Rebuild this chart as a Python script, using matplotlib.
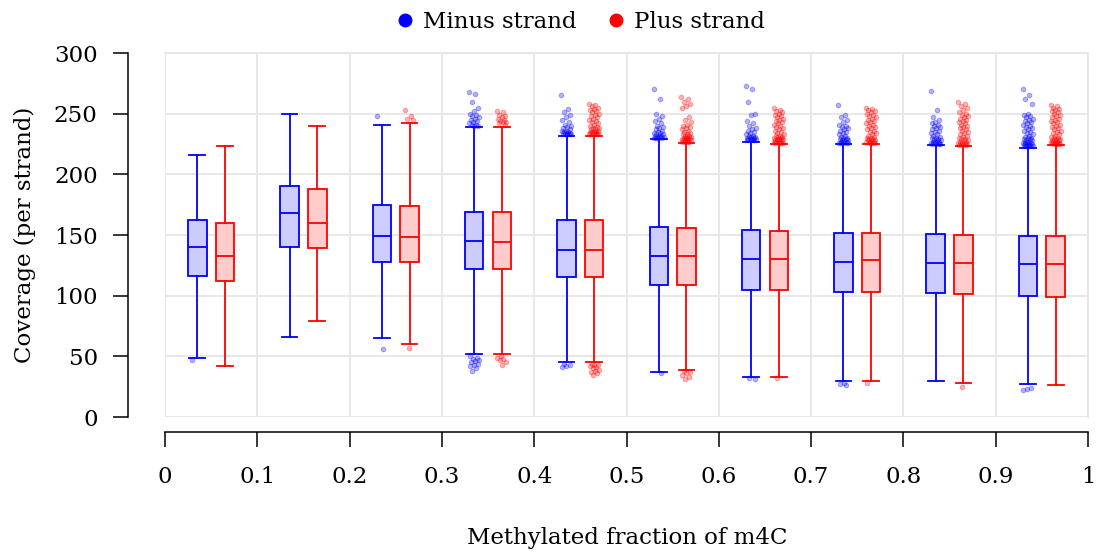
import numpy as np
import matplotlib
matplotlib.use("Agg")
import matplotlib.pyplot as plt
from matplotlib.lines import Line2D

plt.rcParams['font.family'] = ['DejaVu Serif']

# bin centres of methylated fraction
bins = [0.05, 0.15, 0.25, 0.35, 0.45, 0.55, 0.65, 0.75, 0.85, 0.95]

# box statistics per bin (minus strand)
minus_whislo = [49, 66, 65, 52, 45, 37, 33, 30, 30, 27]
minus_q1 = [116.5, 140, 128, 122, 115, 109, 105, 103, 102, 100]
minus_med = [140, 168, 149, 145, 138, 133, 130, 128, 127, 126]
minus_q3 = [162, 190, 175, 169, 162, 157, 154, 152, 151, 149]
minus_whishi = [216, 250, 241, 239, 232, 229, 227, 225, 224, 222]

# box statistics per bin (plus strand)
plus_whislo = [42, 79, 60, 52, 45, 39, 33, 30, 28, 26]
plus_q1 = [112, 139, 128, 122, 115, 109, 105, 103, 101, 99]
plus_med = [133, 160, 148, 144, 138, 133, 130, 129, 127, 126]
plus_q3 = [160, 188, 174, 169, 162, 156, 153, 152, 150, 149]
plus_whishi = [223, 240, 242, 239, 232, 226, 225, 225, 223, 224]

# outliers per bin
minus_out = [
    [47],
    [],
    [248, 56],
    [268, 266, 260, 255, 252, 250, 249, 248, 247, 246, 245, 244, 243, 242, 241,
     241, 240, 240, 50, 49, 48, 47, 46, 45, 44, 43, 42, 40, 38],
    [265, 254, 251, 249, 247, 245, 243, 241, 240, 239, 238, 237, 236, 236, 235,
     235, 234, 234, 234, 233, 233, 233, 233, 44, 43, 42, 41],
    [270, 262, 250, 248, 246, 244, 242, 240, 239, 238, 237, 236, 235, 234, 234,
     233, 233, 232, 232, 232, 231, 231, 231, 230, 230, 230, 230, 36],
    [273, 270, 260, 250, 249, 244, 242, 240, 238, 237, 236, 235, 234, 233, 232,
     232, 231, 231, 230, 230, 230, 229, 229, 229, 228, 228, 228, 228, 32, 31],
    [257, 249, 247, 245, 243, 241, 240, 239, 238, 237, 236, 235, 234, 233, 232,
     231, 230, 230, 229, 229, 228, 228, 228, 227, 227, 227, 226, 226, 226, 226,
     28, 27, 26],
    [269, 253, 247, 245, 243, 242, 241, 240, 239, 238, 237, 236, 235, 234, 233,
     232, 231, 230, 230, 229, 229, 228, 228, 227, 227, 227, 226, 226, 226, 225,
     225, 225, 225],
    [270, 265, 262, 258, 250, 249, 248, 247, 246, 245, 244, 243, 242, 241, 240,
     239, 238, 237, 236, 235, 234, 233, 232, 231, 230, 230, 229, 229, 228, 228,
     227, 227, 226, 226, 226, 225, 225, 225, 224, 224, 224, 223, 223, 223, 223,
     24, 23, 22],
]
plus_out = [
    [],
    [],
    [253, 248, 246, 245, 57],
    [252, 251, 249, 248, 247, 246, 245, 244, 243, 243, 242, 241,
     50, 49, 48, 47, 45, 43],
    [258, 257, 256, 255, 254, 253, 252, 251, 250, 249, 248, 247, 246, 245, 244,
     243, 242, 241, 240, 239, 238, 238, 237, 237, 236, 236, 235, 235, 235, 234,
     234, 234, 233, 233, 233, 233,
     44, 43, 43, 42, 41, 40, 39, 38, 37, 36, 35],
    [264, 262, 260, 258, 256, 255, 247, 245, 243, 241, 240, 239, 238, 237, 236,
     235, 234, 233, 233, 232, 232, 231, 231, 230, 230, 230, 229, 229, 229, 228,
     228, 228, 227, 227, 227, 227,
     38, 37, 36, 35, 33, 31],
    [255, 253, 252, 251, 250, 249, 248, 247, 246, 245, 244, 243, 242, 241, 240,
     239, 238, 237, 236, 235, 234, 233, 232, 232, 231, 231, 230, 230, 229, 229,
     229, 228, 228, 228, 227, 227, 227, 226, 226, 226, 226, 32],
    [255, 254, 253, 252, 251, 250, 249, 248, 247, 246, 245, 244, 243, 242, 241,
     240, 239, 238, 237, 236, 235, 234, 233, 232, 231, 230, 230, 229, 229, 228,
     228, 228, 227, 227, 227, 226, 226, 226, 226, 28],
    [260, 258, 256, 255, 253, 251, 250, 249, 248, 247, 246, 245, 244, 243, 242,
     241, 240, 239, 238, 237, 236, 235, 234, 233, 232, 231, 230, 229, 229, 228,
     228, 227, 227, 226, 226, 225, 225, 225, 224, 224, 224, 25],
    [257, 256, 255, 254, 253, 252, 251, 250, 249, 248, 247, 246, 245, 244, 243,
     242, 241, 240, 239, 238, 237, 236, 235, 234, 233, 232, 231, 230, 230, 229,
     229, 228, 228, 228, 227, 227, 227, 226, 226, 226, 225, 225, 225, 225],
]

x_ticks = [0, 0.1, 0.2, 0.3, 0.4, 0.5, 0.6, 0.7, 0.8, 0.9, 1]
x_labels = ['0', '0.1', '0.2', '0.3', '0.4', '0.5', '0.6', '0.7', '0.8', '0.9', '1']
y_ticks = [0, 50, 100, 150, 200, 250, 300]


def make_stats(lo, q1, med, q3, hi):
    return [dict(whislo=a, q1=b, med=c, q3=d, whishi=e, fliers=[])
            for a, b, c, d, e in zip(lo, q1, med, q3, hi)]


def draw_strand(ax, stats, outs, offset, color, face):
    pos = [b + offset for b in bins]
    lp = dict(color=color, linewidth=1.3)
    ax.bxp(stats, positions=pos, widths=0.02, capwidths=0.017, patch_artist=True,
           showfliers=False, manage_ticks=False,
           boxprops=dict(facecolor=face, edgecolor=color, linewidth=1.3),
           medianprops=lp, whiskerprops=lp, capprops=lp)
    # outliers with a fixed small horizontal spread
    for p, vals in zip(pos, outs):
        if not vals:
            continue
        k = np.arange(len(vals))
        jit = ((k * 0.618034) % 1 - 0.5) * 0.011
        ax.scatter(p + jit, vals, s=11, facecolor=color, edgecolor=color,
                   alpha=0.3, linewidths=0.7, zorder=3)


fig = plt.figure(figsize=(10.99, 5.54), dpi=100)
ax = fig.add_axes([165 / 1099, 1 - 417 / 554, 923 / 1099, 364 / 554])

draw_strand(ax, make_stats(minus_whislo, minus_q1, minus_med, minus_q3, minus_whishi),
            minus_out, -0.015, '#0000ff', '#ccccff')
draw_strand(ax, make_stats(plus_whislo, plus_q1, plus_med, plus_q3, plus_whishi),
            plus_out, 0.015, '#ff0000', '#ffcccc')

ax.set_xlim(0, 1)
ax.set_ylim(0, 300)
ax.set_xticks(x_ticks)
ax.set_xticklabels(x_labels)
ax.set_yticks(y_ticks)
ax.grid(True, color='#e6e6e6', linewidth=1.3)
ax.set_axisbelow(True)

for s in ['top', 'right']:
    ax.spines[s].set_color('#e6e6e6')
    ax.spines[s].set_linewidth(1.3)
ax.spines['left'].set_position(('outward', 27))
ax.spines['bottom'].set_position(('outward', 11))
ax.spines['left'].set_linewidth(1.1)
ax.spines['bottom'].set_linewidth(1.1)
ax.tick_params(axis='both', direction='out', length=10.5, width=1.1, labelsize=16.5)
ax.tick_params(axis='x', pad=14)
ax.tick_params(axis='y', pad=11)

fig.text(627 / 1099, 1 - 538 / 554, 'Methylated fraction of m4C',
         ha='center', va='center', fontsize=16.5)
fig.text(25 / 1099, 1 - 235 / 554, 'Coverage (per strand)',
         ha='center', va='center', rotation=90, fontsize=16.5)

handles = [Line2D([], [], marker='o', linestyle='', color='#0000ff', markersize=9),
           Line2D([], [], marker='o', linestyle='', color='#ff0000', markersize=9)]
fig.legend(handles, ['Minus strand', 'Plus strand'], loc='center',
           bbox_to_anchor=(579 / 1099, 1 - 22 / 554), ncol=2, frameon=False,
           fontsize=16.5, handletextpad=0.3, columnspacing=1.2, handlelength=1.0)

fig.savefig('out.png', dpi=100)
